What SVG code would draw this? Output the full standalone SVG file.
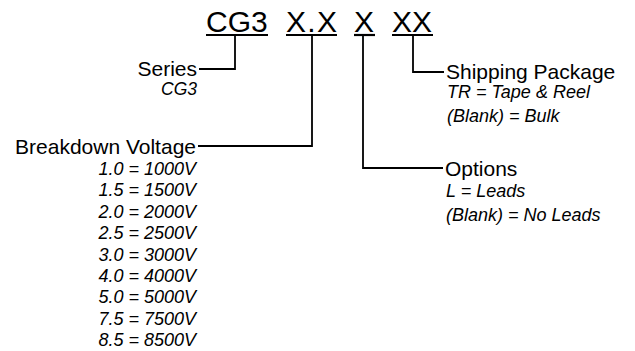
<svg xmlns="http://www.w3.org/2000/svg" width="635" height="351" viewBox="0 0 635 351">
<style>
.t{font-family:"Liberation Sans",Arial,sans-serif;fill:#000}
.title{font-size:30px}
.lbl{font-size:21px}
.sub{font-size:18px;font-style:italic}
.ln{stroke:#000;stroke-width:1.8;fill:none}
.ul{stroke:#000;stroke-width:2.2}
</style>
<rect width="635" height="351" fill="#fff"/>
<g id="title">
<text class="t title" x="206" y="32">CG3</text>
<text class="t title" x="286" y="32" textLength="51" lengthAdjust="spacing">X.X</text>
<text class="t title" x="354" y="32">X</text>
<text class="t title" x="392" y="32">XX</text>
<line class="ul" x1="206" y1="35" x2="268" y2="35"/>
<line class="ul" x1="286" y1="35" x2="337" y2="35"/>
<line class="ul" x1="354" y1="35" x2="375" y2="35"/>
<line class="ul" x1="392" y1="35" x2="433" y2="35"/>
</g>
<g id="connectors">
<polyline class="ln" points="235,35 235,69 199,69"/>
<polyline class="ln" points="312,35 312,146 198,146"/>
<polyline class="ln" points="363,35 363,168 443,168"/>
<polyline class="ln" points="413,35 413,72 444,72"/>
</g>
<g id="series">
<text class="t lbl" x="197" y="76" text-anchor="end">Series</text>
<text class="t sub" x="197" y="95" text-anchor="end" style="font-size:17.5px">CG3</text>
</g>
<g id="breakdown">
<text class="t lbl" x="196" y="154" text-anchor="end">Breakdown Voltage</text>
<text class="t sub" x="196" y="175" text-anchor="end">1.0 = 1000V</text>
<text class="t sub" x="196" y="196.4" text-anchor="end">1.5 = 1500V</text>
<text class="t sub" x="196" y="217.8" text-anchor="end">2.0 = 2000V</text>
<text class="t sub" x="196" y="239.2" text-anchor="end">2.5 = 2500V</text>
<text class="t sub" x="196" y="260.6" text-anchor="end">3.0 = 3000V</text>
<text class="t sub" x="196" y="282" text-anchor="end">4.0 = 4000V</text>
<text class="t sub" x="196" y="303.4" text-anchor="end">5.0 = 5000V</text>
<text class="t sub" x="196" y="324.8" text-anchor="end">7.5 = 7500V</text>
<text class="t sub" x="196" y="346.2" text-anchor="end">8.5 = 8500V</text>
</g>
<g id="options">
<text class="t lbl" x="445" y="176">Options</text>
<text class="t sub" x="446" y="197">L = Leads</text>
<text class="t sub" x="446" y="221">(Blank) = No Leads</text>
</g>
<g id="shipping">
<text class="t lbl" x="446" y="79">Shipping Package</text>
<text class="t sub" x="447" y="98">TR = Tape &amp; Reel</text>
<text class="t sub" x="447" y="122">(Blank) = Bulk</text>
</g>
</svg>
